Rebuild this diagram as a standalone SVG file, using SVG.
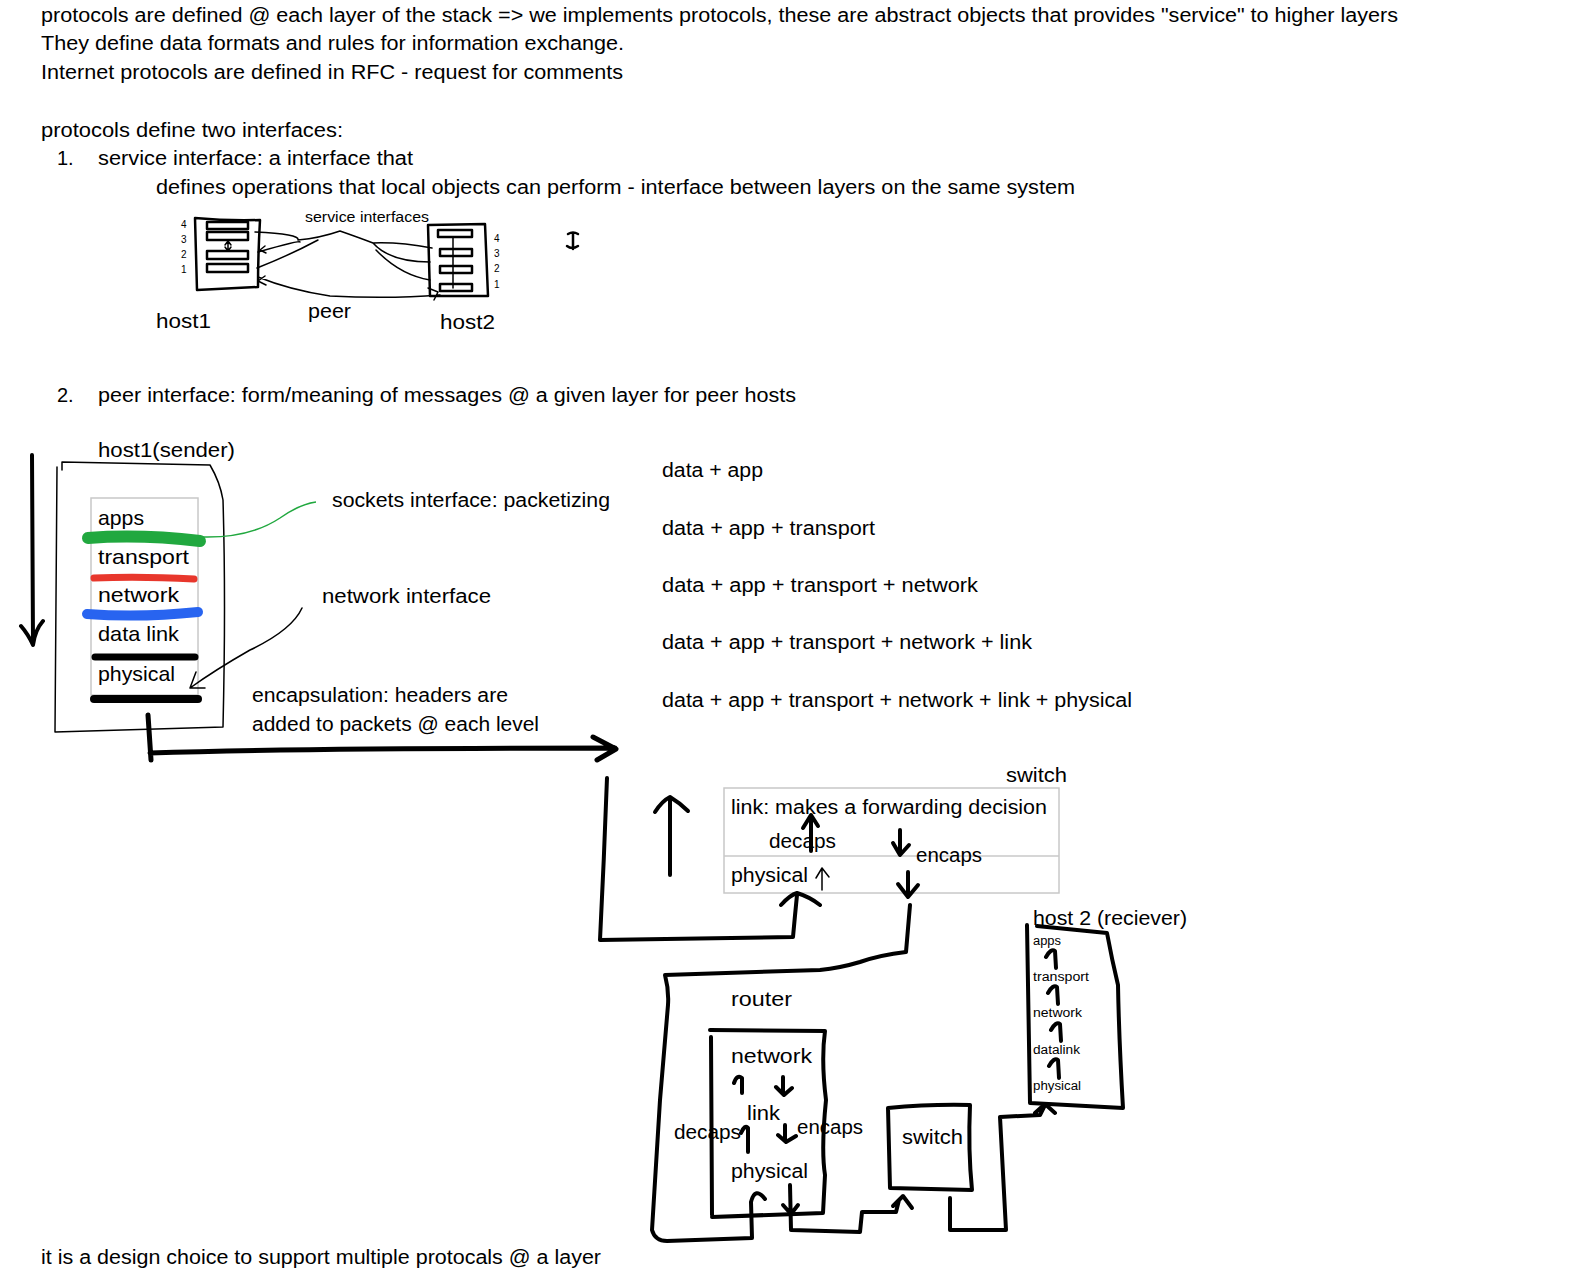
<svg xmlns="http://www.w3.org/2000/svg" width="1570" height="1274" viewBox="0 0 1570 1274">
<style>
text{font-family:"Liberation Sans",Arial,sans-serif;font-size:20px;fill:#000}
.L{font-size:21px}
.sm{font-size:10px}
.xs{font-size:12.5px}
.m{font-size:14px}
.ink{fill:none;stroke:#000;stroke-linecap:round;stroke-linejoin:round}
.t1{stroke-width:1.5}
.t2{stroke-width:2.5}
.t4{stroke-width:4}
.t5{stroke-width:5}
.gray{fill:#fff;stroke:#c8c8c8;stroke-width:1.5}
</style>
<rect width="1570" height="1274" fill="#fff"/>
<g id="intro">
<text x="41" y="22" textLength="1357" lengthAdjust="spacingAndGlyphs">protocols are defined @ each layer of the stack =&gt; we implements protocols, these are abstract objects that provides "service" to higher layers</text>
<text x="41" y="50" textLength="583" lengthAdjust="spacingAndGlyphs">They define data formats and rules for information exchange.</text>
<text x="41" y="79" textLength="582" lengthAdjust="spacingAndGlyphs">Internet protocols are defined in RFC - request for comments</text>
<text x="41" y="137" textLength="302" lengthAdjust="spacingAndGlyphs">protocols define two interfaces:</text>
<text x="57" y="165">1.</text>
<text x="98" y="165" textLength="315" lengthAdjust="spacingAndGlyphs">service interface: a interface that</text>
<text x="156" y="194" textLength="919" lengthAdjust="spacingAndGlyphs">defines operations that local objects can perform - interface between layers on the same system</text>
<text x="57" y="402">2.</text>
<text x="98" y="402" textLength="698" lengthAdjust="spacingAndGlyphs">peer interface: form/meaning of messages @ a given layer for peer hosts</text>
<text x="41" y="1264" textLength="560" lengthAdjust="spacingAndGlyphs">it is a design choice to support multiple protocals @ a layer</text>
</g>
<g id="service-diagram">
<path class="ink t2" d="M195,218 Q228,221 260,220 Q258,255 258,287 L197,290 Q196,255 195,218"/>
<path class="ink t2" d="M207,222 L248,222 L248,229 L207,229 Z M207,232 L248,232 L248,240 L207,240 Z M207,251 L248,251 L248,259 L207,259 Z M207,264 L248,264 L248,272 L207,272 Z"/>
<path class="ink t1" d="M228,242 L228,250 M225,245 L228,241 L231,245 M225,247 L228,251 L231,247"/>
<path class="ink t2" d="M428,225 L485,224 L488,296 L430,296 Z"/>
<path class="ink t2" d="M438,230 L472,230 L472,237 L438,237 Z M440,249 L472,249 L472,256 L440,256 Z M440,266 L472,266 L472,273 L440,273 Z M440,284 L472,284 L472,291 L440,291 Z"/>
<path class="ink t1" d="M453,237 L453,288"/>
<text class="sm" x="181" y="228">4</text>
<text class="sm" x="181" y="243">3</text>
<text class="sm" x="181" y="258">2</text>
<text class="sm" x="181" y="273">1</text>
<text class="sm" x="494" y="242">4</text>
<text class="sm" x="494" y="257">3</text>
<text class="sm" x="494" y="272">2</text>
<text class="sm" x="494" y="288">1</text>
<text class="m" x="305" y="222" textLength="124" lengthAdjust="spacingAndGlyphs">service interfaces</text>
<path class="ink t1" d="M255,232 Q300,234 298,240 Q320,238 340,231 Q360,238 373,243 Q400,242 432,248 M258,252 Q300,240 300,242 M257,268 Q290,255 318,240 M373,243 Q390,262 430,262 M376,250 Q400,275 430,280 M258,277 Q290,290 330,296 Q390,299 440,295 M258,281 L265,276 M258,281 L266,285 M428,288 L438,292 M438,292 L434,300"/>
<path class="ink t1" d="M260,250 L265,246 M260,250 L266,253"/>
<text class="L" x="156" y="328" textLength="55" lengthAdjust="spacingAndGlyphs">host1</text>
<text class="L" x="308" y="318" textLength="43" lengthAdjust="spacingAndGlyphs">peer</text>
<text class="L" x="440" y="329" textLength="55" lengthAdjust="spacingAndGlyphs">host2</text>
<path class="ink t2" d="M568,234 Q573,231 578,234 M573,233 L573,249 M567,246 Q572,250 578,246"/>
</g>
<g id="host1">
<text class="L" x="98" y="457" textLength="137" lengthAdjust="spacingAndGlyphs">host1(sender)</text>
<path class="ink t1" d="M62,470 L62,462 L210,465 Q220,482 223,500 Q226,600 223,727 L55,732 L57,467" stroke-width="2"/>
<rect class="gray" x="91" y="498" width="107" height="197"/>
<path fill="none" stroke="#21a83f" stroke-width="12" stroke-linecap="round" d="M88,538 Q140,534 200,541"/>
<path fill="none" stroke="#e8372c" stroke-width="7" stroke-linecap="round" d="M94,578 Q140,576 194,579"/>
<path fill="none" stroke="#2864f0" stroke-width="10" stroke-linecap="round" d="M87,614 Q140,618 198,612"/>
<path fill="none" stroke="#000" stroke-width="7" stroke-linecap="round" d="M95,657 L195,657"/>
<path fill="none" stroke="#000" stroke-width="8" stroke-linecap="round" d="M94,699 L198,699"/>
<text class="L" x="98" y="525" textLength="46" lengthAdjust="spacingAndGlyphs">apps</text>
<text class="L" x="98" y="564" textLength="91" lengthAdjust="spacingAndGlyphs">transport</text>
<text class="L" x="98" y="602" textLength="81" lengthAdjust="spacingAndGlyphs">network</text>
<text class="L" x="98" y="641" textLength="81" lengthAdjust="spacingAndGlyphs">data link</text>
<text class="L" x="98" y="681" textLength="77" lengthAdjust="spacingAndGlyphs">physical</text>
</g>
<g id="labels">
<text x="332" y="507" textLength="278" lengthAdjust="spacingAndGlyphs">sockets interface: packetizing</text>
<text x="322" y="603" textLength="169" lengthAdjust="spacingAndGlyphs">network interface</text>
<text x="252" y="702" textLength="256" lengthAdjust="spacingAndGlyphs">encapsulation: headers are</text>
<text x="252" y="731" textLength="287" lengthAdjust="spacingAndGlyphs">added to packets @ each level</text>
<text x="662" y="477" textLength="101" lengthAdjust="spacingAndGlyphs">data + app</text>
<text x="662" y="535" textLength="213" lengthAdjust="spacingAndGlyphs">data + app + transport</text>
<text x="662" y="592" textLength="316" lengthAdjust="spacingAndGlyphs">data + app + transport + network</text>
<text x="662" y="649" textLength="370" lengthAdjust="spacingAndGlyphs">data + app + transport + network + link</text>
<text x="662" y="707" textLength="470" lengthAdjust="spacingAndGlyphs">data + app + transport + network + link + physical</text>
</g>
<g id="switch-top">
<text x="1006" y="782" textLength="61" lengthAdjust="spacingAndGlyphs">switch</text>
<rect class="gray" x="724" y="788" width="335" height="105"/>
<line x1="724" y1="856" x2="1059" y2="856" stroke="#c8c8c8" stroke-width="1.5"/>
<text x="731" y="814" textLength="316" lengthAdjust="spacingAndGlyphs">link: makes a forwarding decision</text>
<text x="769" y="848" textLength="67" lengthAdjust="spacingAndGlyphs">decaps</text>
<text x="916" y="862" textLength="66" lengthAdjust="spacingAndGlyphs">encaps</text>
<text x="731" y="882" textLength="77" lengthAdjust="spacingAndGlyphs">physical</text>
</g>
<g id="router">
<text x="731" y="1006" textLength="61" lengthAdjust="spacingAndGlyphs">router</text>
<path class="ink t4" d="M710,1030 L825,1031 Q821,1060 826,1100 Q821,1150 825,1175 L823,1213 L712,1217 M711,1037 L712,1215"/>
<text x="731" y="1063" textLength="81" lengthAdjust="spacingAndGlyphs">network</text>
<text x="747" y="1120" textLength="33" lengthAdjust="spacingAndGlyphs">link</text>
<text x="674" y="1139" textLength="67" lengthAdjust="spacingAndGlyphs">decaps</text>
<text x="797" y="1134" textLength="66" lengthAdjust="spacingAndGlyphs">encaps</text>
<text x="731" y="1178" textLength="77" lengthAdjust="spacingAndGlyphs">physical</text>
</g>
<g id="switch-bottom">
<path class="ink t4" d="M888,1108 Q930,1104 970,1105 Q968,1150 972,1190 L890,1188 Q889,1150 888,1108"/>
<text x="902" y="1144" textLength="61" lengthAdjust="spacingAndGlyphs">switch</text>
</g>
<g id="host2">
<text x="1033" y="925" textLength="154" lengthAdjust="spacingAndGlyphs">host 2 (reciever)</text>
<path class="ink t4" d="M1027,925 L1030,1103 L1123,1108 Q1119,1040 1118,985 Q1112,960 1107,933 L1037,926"/>
<text class="xs" x="1033" y="945" textLength="28" lengthAdjust="spacingAndGlyphs">apps</text>
<text class="xs" x="1033" y="981" textLength="56" lengthAdjust="spacingAndGlyphs">transport</text>
<text class="xs" x="1033" y="1017" textLength="49" lengthAdjust="spacingAndGlyphs">network</text>
<text class="xs" x="1033" y="1054" textLength="47" lengthAdjust="spacingAndGlyphs">datalink</text>
<text class="xs" x="1033" y="1090" textLength="48" lengthAdjust="spacingAndGlyphs">physical</text>
<path class="ink t4" d="M1056,968 L1055,951 Q1051,948 1046,957 M1058,1004 L1057,987 Q1053,984 1048,993 M1061,1041 L1060,1024 Q1056,1021 1051,1030 M1059,1078 L1058,1060 Q1054,1057 1049,1066"/>
</g>
<g id="connectors">
<path class="ink t4" d="M32,455 L33,642 M21,626 Q28,634 33,645 Q35,630 43,621"/>
<path class="ink t5" d="M148,715 L151,760 M150,753 Q300,748 615,748 M593,737 L616,749 L597,760"/>
<path class="ink t1" d="M302,608 Q292,630 250,650 Q215,670 190,688 M196,672 L190,688 L205,688"/>
<path fill="none" stroke="#21a83f" stroke-width="1.5" d="M203,537 Q250,538 280,518 Q300,504 316,502"/>
<path class="ink t4" d="M670,875 L670,800 M655,812 Q662,801 670,797 Q680,803 688,811"/>
<path class="ink t4" d="M607,778 Q604,860 600,940 L793,937 Q795,915 797,895 M781,905 Q790,895 797,893 Q810,897 820,905"/>
<path class="ink t1" d="M822,890 L822,868 M816,878 L822,868 L829,877"/>
<path class="ink t4" d="M811,851 L811,817 M803,828 L811,815 L818,826"/>
<path class="ink t4" d="M900,830 L900,853 M893,843 L900,855 L909,845"/>
<path class="ink t4" d="M908,872 L908,895 M898,884 L908,897 L918,885"/>
<path class="ink t4" d="M910,905 L906,952 Q880,955 860,962 Q840,968 820,970 L665,975 Q669,990 668,1005 L660,1100 L652,1230 Q655,1241 667,1241 L752,1238 L751,1202 Q755,1186 765,1199"/>
<path class="ink t4" d="M742,1093 L742,1078 Q737,1074 734,1083 M783,1077 L783,1093 M776,1087 L784,1095 L792,1088 M748,1152 L748,1128 Q745,1124 741,1133 M785,1125 L785,1140 M778,1135 L786,1142 L796,1136"/>
<path class="ink t4" d="M790,1185 L791,1230 L860,1232 L862,1212 L896,1212 L899,1200 M893,1206 L903,1196 L912,1208 M783,1205 L791,1214 L798,1205"/>
<path class="ink t4" d="M950,1198 L950,1230 L1006,1230 L1000,1117 L1040,1115 L1045,1105 M1035,1113 L1045,1104 L1055,1113"/>
</g>
</svg>
